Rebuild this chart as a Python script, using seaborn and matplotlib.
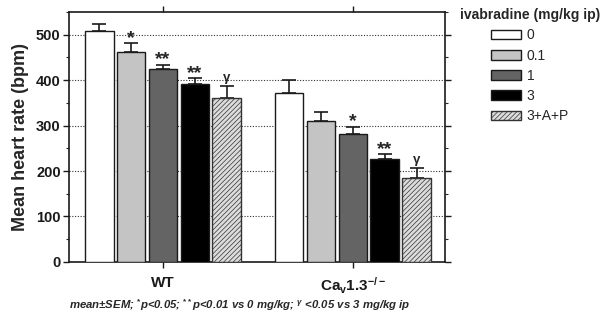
import numpy as np
import pandas as pd
import matplotlib
matplotlib.use("Agg")
import matplotlib.pyplot as plt
import seaborn as sns
from matplotlib.ticker import MultipleLocator

genotypes = ["WT", "Ca$_{\\mathrm{v}}$1.3$^{\\mathrm{-/-}}$"]
doses = ["0", "0.1", "1", "3", "3+A+P"]
wt_mean = [507, 462, 424, 391, 360]
wt_sem = [16, 19, 10, 13, 28]
ko_mean = [372, 309, 281, 226, 184]
ko_sem = [29, 21, 16, 11, 23]
wt_sig = ["", "*", "**", "**", "\u03b3"]
ko_sig = ["", "", "*", "**", "\u03b3"]
colors = ["#ffffff", "#c4c4c4", "#646464", "#000000", "#dcdcdc"]

sns.set_theme(style="white")
plt.rcParams["font.family"] = ["Liberation Sans", "DejaVu Sans"]
plt.rcParams["mathtext.fontset"] = "custom"
plt.rcParams["mathtext.rm"] = "Liberation Sans:bold"
plt.rcParams["mathtext.it"] = "Liberation Sans:italic:bold"
plt.rcParams["mathtext.bf"] = "Liberation Sans:bold"
plt.rcParams["hatch.linewidth"] = 0.5

rows = []
for g, means, sems, sigs in [(genotypes[0], wt_mean, wt_sem, wt_sig),
                             (genotypes[1], ko_mean, ko_sem, ko_sig)]:
    for d, m, s, sg in zip(doses, means, sems, sigs):
        rows.append({"genotype": g, "dose": d, "hr": m, "sem": s, "sig": sg})
df = pd.DataFrame(rows)

fig = plt.figure(figsize=(6.0, 3.21), dpi=100)
ax = fig.add_axes([0.115, 0.184, 0.6267, 0.779])

sns.barplot(data=df, x="genotype", y="hr", hue="dose", order=genotypes,
            hue_order=doses, palette=colors, width=0.84, gap=0.1,
            edgecolor="#1a1a1a", linewidth=1.0, errorbar=None, legend=False,
            ax=ax, zorder=3)

handles = []
for i, (cont, d) in enumerate(zip(ax.containers, doses)):
    sub = df[df["dose"] == d].set_index("genotype").loc[genotypes]
    xs = [p.get_x() + p.get_width() / 2 for p in cont.patches]
    hs = [p.get_height() for p in cont.patches]
    if d == "3+A+P":
        for p in cont.patches:
            p.set_hatch("///////")
            p.set_edgecolor("#333333")
    ax.errorbar(xs, hs, yerr=[np.zeros(len(xs)), sub["sem"].values],
                fmt="none", ecolor="#1a1a1a", elinewidth=1.2, capsize=5,
                capthick=1.2, zorder=2)
    for x, h, s, sg in zip(xs, hs, sub["sem"].values, sub["sig"].values):
        if sg == "\u03b3":
            ax.text(x, h + s + 4, sg, ha="center", va="bottom",
                    fontsize=9.5, fontweight="bold")
        elif sg:
            ax.text(x, h + s - 8, sg, ha="center", va="bottom",
                    fontsize=14, fontweight="bold")
    handles.append(cont.patches[0])

ax.set_ylim(0, 550)
ax.set_xlim(-0.495, 1.485)
ax.yaxis.set_major_locator(MultipleLocator(100))
ax.yaxis.set_minor_locator(MultipleLocator(50))
ax.set_yticks([0, 100, 200, 300, 400, 500])
ax.grid(axis="y", which="major", linestyle=(0, (1, 1.5)), color="#333333",
        linewidth=0.8, zorder=0)
ax.set_axisbelow(True)
for sp in ax.spines.values():
    sp.set_color("#1a1a1a")
    sp.set_linewidth(1.2)
ax.tick_params(axis="y", which="major", direction="out", length=4, width=1.0,
               left=True, right=True, labelsize=10.5, pad=2, colors="#1a1a1a")
ax.tick_params(axis="y", which="minor", direction="out", length=2.5, width=0.8,
               left=True, right=True)
ax.tick_params(axis="x", which="major", direction="out", length=4, width=1.0,
               bottom=True, top=True, labelsize=11, pad=6, colors="#1a1a1a")
for lab in ax.get_yticklabels() + ax.get_xticklabels():
    lab.set_fontweight("bold")
ax.set_xlabel("")
ax.set_ylabel("Mean heart rate (bpm)", fontsize=13, fontweight="bold",
              labelpad=5)

leg = ax.legend(handles, doses, loc="upper left", bbox_to_anchor=(1.04, 1.015),
                frameon=False, title="ivabradine (mg/kg ip)", fontsize=10,
                handlelength=2.1, handleheight=0.7, labelspacing=0.45,
                handletextpad=0.45, borderaxespad=0, borderpad=0)
leg.get_title().set_fontweight("bold")
leg.get_title().set_fontsize(10)

fig.text(0.40, 0.05,
         "mean\u00b1SEM; $^{*}$p<0.05; $^{**}$p<0.01 vs 0 mg/kg; $^{\u03b3}$ <0.05 vs 3 mg/kg ip",
         ha="center", va="center", fontsize=8.2, fontstyle="italic",
         fontweight="bold")

fig.savefig("out.png", dpi=100)
